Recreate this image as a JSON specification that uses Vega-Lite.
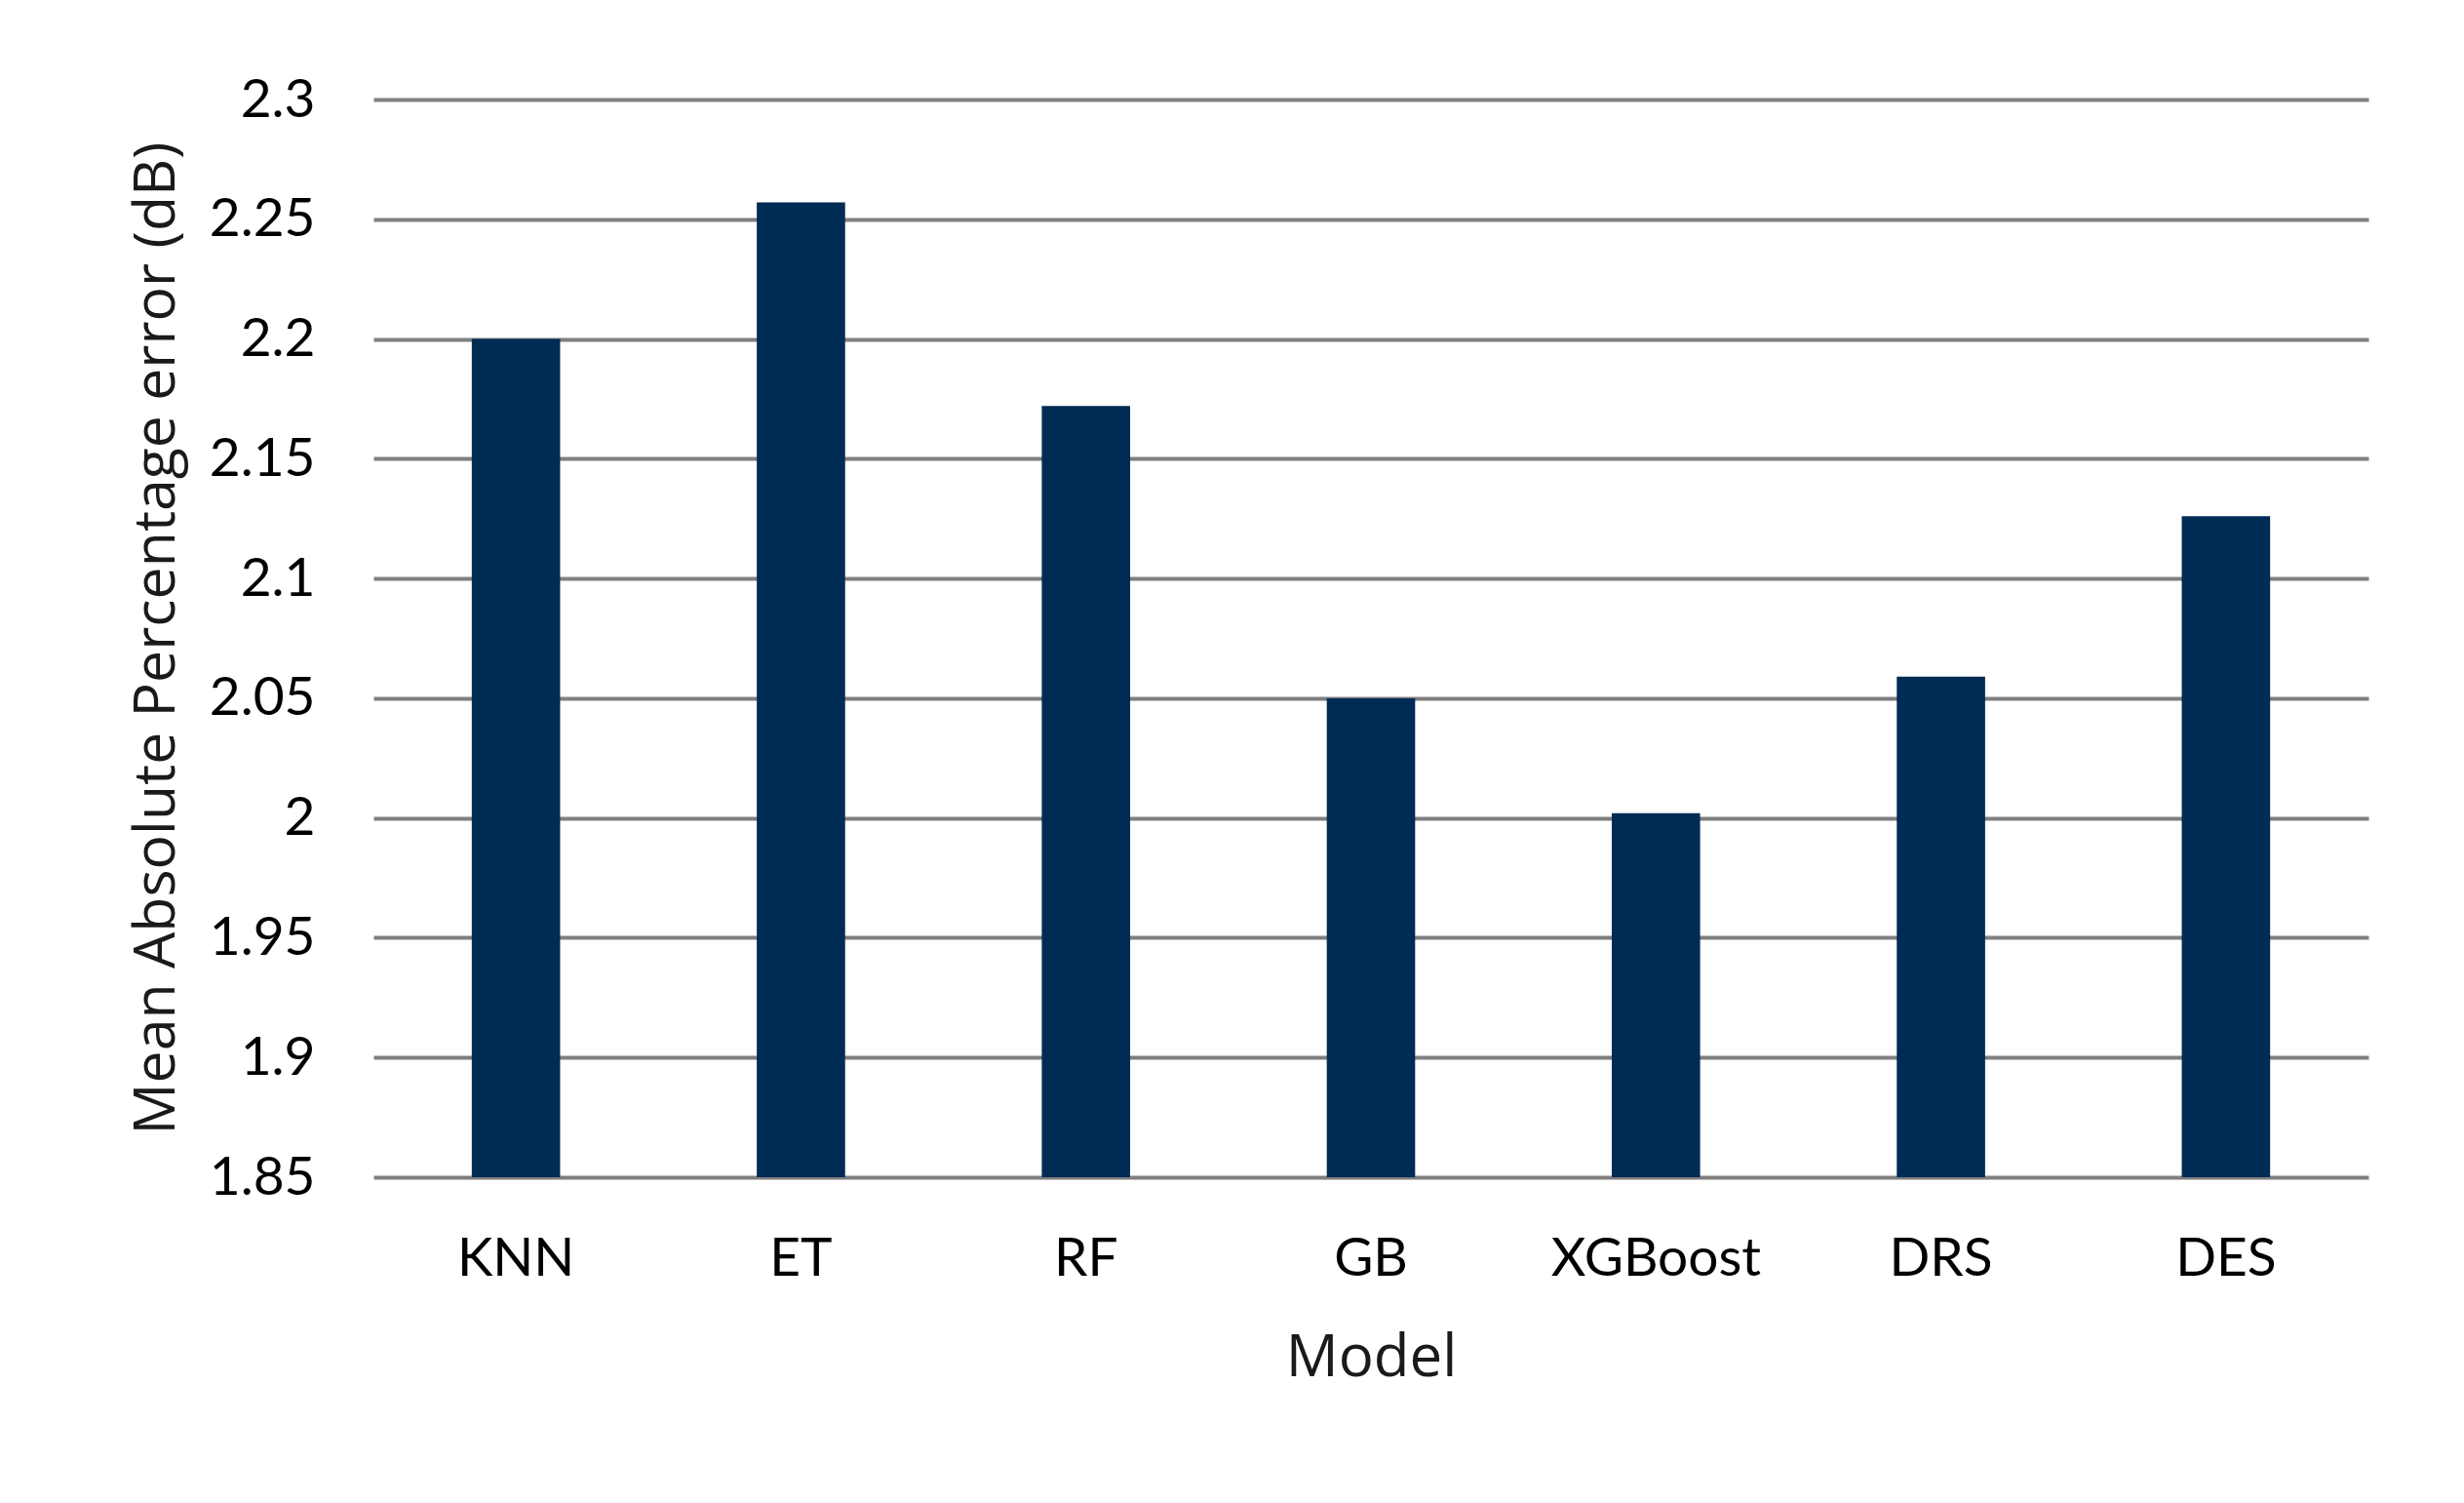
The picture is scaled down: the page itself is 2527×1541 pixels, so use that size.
{
  "$schema": "https://vega.github.io/schema/vega-lite/v6.json",
  "autosize": "none",
  "width": 2046,
  "height": 1105,
  "padding": {"left": 383, "top": 102, "right": 98, "bottom": 334},
  "background": "white",
  "data": {
    "values": [
      {"model": "KNN", "mape": 2.2},
      {"model": "ET", "mape": 2.257},
      {"model": "RF", "mape": 2.172},
      {"model": "GB", "mape": 2.05},
      {"model": "XGBoost", "mape": 2.002},
      {"model": "DRS", "mape": 2.059},
      {"model": "DES", "mape": 2.126}
    ]
  },
  "mark": {"type": "bar", "color": "#002B55", "clip": true},
  "encoding": {
    "x": {
      "field": "model",
      "type": "nominal",
      "sort": null,
      "scale": {"paddingInner": 0.69, "paddingOuter": 0.345},
      "axis": {
        "title": "Model",
        "labelAngle": 0,
        "labelLimit": 0,
        "ticks": false,
        "tickSize": 0,
        "domain": false,
        "labelFont": "Lato",
        "labelFontSize": 55,
        "labelColor": "#000000",
        "labelBaseline": "alphabetic",
        "labelPadding": 100,
        "titleFont": "Open Sans",
        "titleFontSize": 60,
        "titleFontWeight": "normal",
        "titleColor": "#1a1a1a",
        "titleBaseline": "alphabetic",
        "titleY": 203
      }
    },
    "y": {
      "field": "mape",
      "type": "quantitative",
      "scale": {"domain": [1.85, 2.3], "zero": false, "nice": false},
      "axis": {
        "title": "Mean Absolute Percentage error (dB)",
        "values": [1.85, 1.9, 1.95, 2, 2.05, 2.1, 2.15, 2.2, 2.25, 2.3],
        "labelExpr": "replace(format(datum.value, '.2f'), /\\.?0+$/, '')",
        "ticks": false,
        "tickSize": 0,
        "domain": false,
        "grid": true,
        "gridColor": "#7f7f7f",
        "gridWidth": 4,
        "gridOpacity": 1,
        "labelFont": "Lato",
        "labelFontSize": 55,
        "labelColor": "#000000",
        "labelPadding": 60,
        "titleFont": "Open Sans",
        "titleFontSize": 59,
        "titleFontWeight": "normal",
        "titleColor": "#1a1a1a",
        "titleAngle": -90,
        "titleBaseline": "middle",
        "titleX": -223,
        "titleY": 552
      }
    }
  },
  "config": {
    "view": {"stroke": null}
  }
}
